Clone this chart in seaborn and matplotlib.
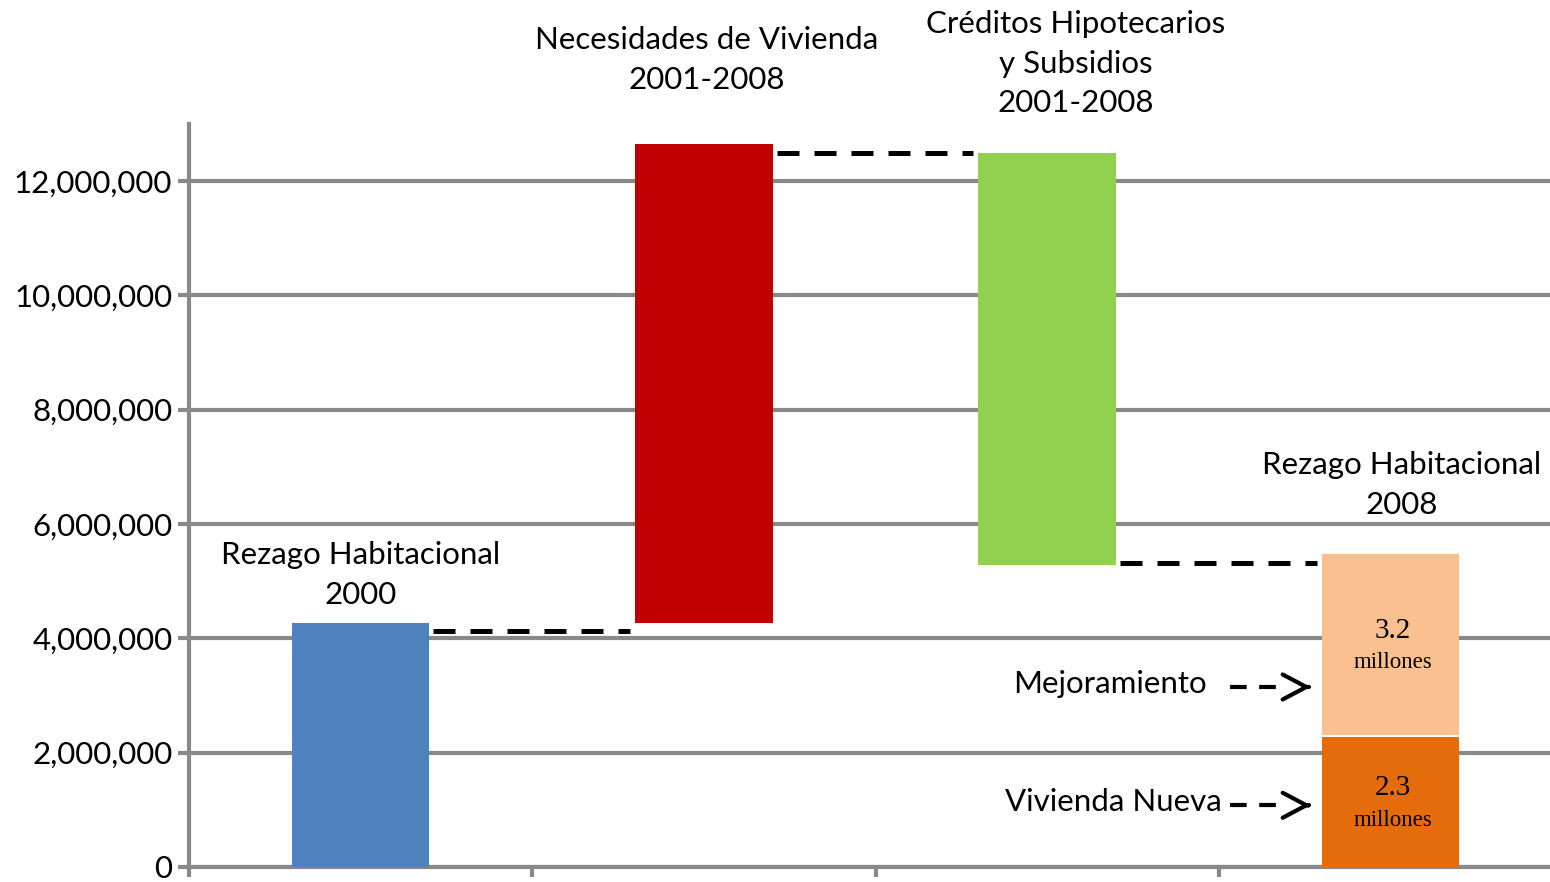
import numpy as np
import pandas as pd
import matplotlib
matplotlib.use("Agg")
import matplotlib.pyplot as plt
import seaborn as sns
from matplotlib.ticker import FuncFormatter

# --- data -------------------------------------------------------------
categories = ["Rezago 2000", "Necesidades", "Creditos", "Rezago 2008"]
seg_cat = ["Rezago 2000", "Necesidades", "Creditos", "Rezago 2008", "Rezago 2008"]
seg_bottom = [0, 4270000, 5280000, 0, 2310000]
seg_top = [4270000, 12650000, 12500000, 2280000, 5470000]
seg_color = ["#4f81bd", "#c00000", "#92d050", "#e46c0a", "#fac090"]

connector_y = [4130000, 12500000, 5320000]

bar_labels = ["Rezago Habitacional\n2000",
              "Necesidades de Vivienda\n2001-2008",
              "Créditos Hipotecarios\ny Subsidios\n2001-2008",
              "Rezago Habitacional\n2008"]
inner_values = ["3.2", "2.3"]
inner_y = [4130000, 1380000]
arrow_labels = ["Mejoramiento", "Vivienda Nueva"]
arrow_y = [3150000, 1080000]

yticks = [0, 2000000, 4000000, 6000000, 8000000, 10000000, 12000000]

# --- figure -----------------------------------------------------------
sns.set_style("white")
plt.rcParams["font.family"] = ["Lato", "DejaVu Sans"]
plt.rcParams["text.color"] = "black"
plt.rcParams["ytick.labelcolor"] = "black"
grey = "#898989"

fig = plt.figure(figsize=(15.5, 8.82), dpi=100)
ax = fig.add_axes([189 / 1550, 15 / 882, 1373 / 1550, 743 / 882])

for c, b, t, col in zip(seg_cat, seg_bottom, seg_top, seg_color):
    sns.barplot(x=[c], y=[t - b], bottom=b, order=categories, color=col,
                saturation=1, width=0.4, ax=ax, zorder=3, linewidth=0)

ax.set_xlim(-0.5, 3.5)
ax.set_ylim(0, 13000000)
ax.set_yticks(yticks)
ax.yaxis.set_major_formatter(FuncFormatter(lambda v, p: f"{v:,.0f}"))
ax.set_xticks([])
ax.set_xticks(np.arange(-0.5, 3.6, 1), minor=True)
ax.set_xlabel("")
ax.set_ylabel("")

ax.grid(axis="y", color=grey, lw=3, zorder=0)
ax.set_axisbelow(True)
for s in ["top", "right"]:
    ax.spines[s].set_visible(False)
for s in ["left", "bottom"]:
    ax.spines[s].set_color(grey)
    ax.spines[s].set_linewidth(3)
ax.tick_params(axis="y", which="major", left=True, length=8, width=3, color=grey,
               labelsize=22.5, pad=4, labelcolor="black")
ax.tick_params(axis="x", which="minor", bottom=True, length=7, width=3, color=grey)

# dashed connectors between bars
for i, yv in enumerate(connector_y):
    ax.plot([i + 0.212, i + 0.785], [yv, yv], color="black", lw=3.6,
            dashes=(4.4, 3), zorder=4, solid_capstyle="butt")

# category labels
label_pos = [(0.0, 5110000), (1.007, 14120000), (2.083, 14050000), (3.033, 6680000)]
for txt, (x, y) in zip(bar_labels, label_pos):
    ax.text(x, y, txt, ha="center", va="center", fontsize=22.5,
            linespacing=1.5, clip_on=False, zorder=5, color="black")

# values inside the stacked bar
for v, y in zip(inner_values, inner_y):
    ax.text(3.007, y, v, ha="center", va="center", fontsize=21,
            family="Liberation Serif", zorder=5, color="black")
    ax.text(3.007, y - 560000, "millones", ha="center", va="center",
            fontsize=16.5, family="Liberation Serif", zorder=5, color="black")

# arrow annotations
text_right = [2.465, 2.509]
for txt, y, xr in zip(arrow_labels, arrow_y, text_right):
    ax.text(xr, y + 50000, txt, ha="right", va="center", fontsize=22.5,
            zorder=5, color="black")
    ax.plot([2.532, 2.70], [y, y], color="black", lw=3, dashes=(4, 3), zorder=5)
    ax.annotate("", xy=(2.768, y), xytext=(2.760, y),
                arrowprops=dict(arrowstyle="->,head_length=0.85,head_width=0.45",
                                lw=3, color="black", mutation_scale=20,
                                shrinkA=0, shrinkB=0), zorder=5)

plt.savefig("out.png", dpi=100)
